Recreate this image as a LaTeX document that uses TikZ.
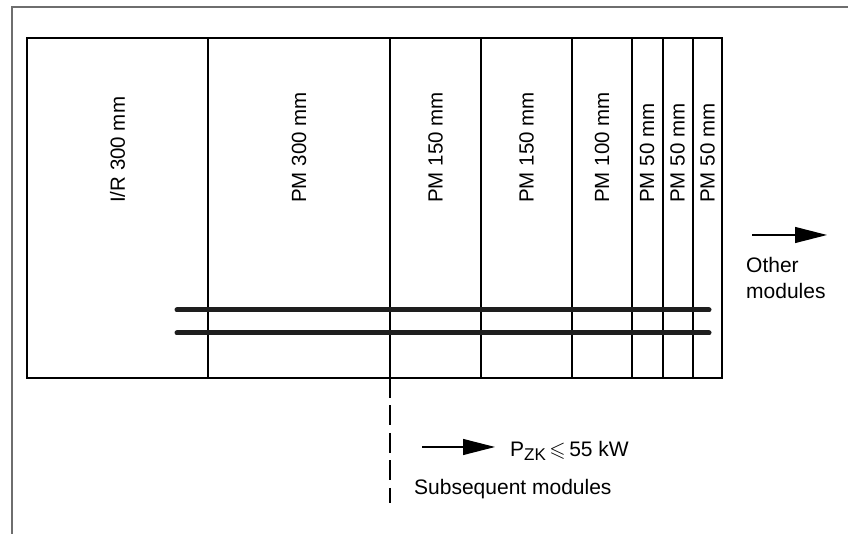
\documentclass[tikz,border=0pt]{standalone}
\usepackage{amssymb}
\usepackage{fontspec}
\setmainfont{Liberation Sans}
\usetikzlibrary{arrows.meta}
\definecolor{framegray}{HTML}{6E6E6E}
\definecolor{barblack}{HTML}{1E1E1E}
\tikzset{
  module/.style={draw=black, line width=1.1pt, anchor=north west, inner sep=0pt, outer sep=0pt, minimum height=340pt},
  modlabel/.style={rotate=90, anchor=west, inner sep=0pt, font=\fontsize{20.5}{24}\selectfont},
  bar/.style={line width=5pt, line cap=round, draw=barblack},
  flowarrow/.style={line width=1.1pt, -{Triangle[length=32pt,width=16pt]}},
  plain/.style={inner sep=0pt, font=\fontsize{21}{26}\selectfont}
}
\begin{document}
\begin{tikzpicture}[x=1pt,y=1pt]
\useasboundingbox (0,0) rectangle (848,534);
% outer frame
\draw[framegray, line width=1.6pt] (12,0) -- (12,527) -- (848,527);
% modules
\node[module, minimum width=181pt] (m1) at (27,496) {};
\node[module, minimum width=182pt] (m2) at (208,496) {};
\node[module, minimum width=91pt] (m3) at (390,496) {};
\node[module, minimum width=91pt] (m4) at (481,496) {};
\node[module, minimum width=60pt] (m5) at (572,496) {};
\node[module, minimum width=31pt] (m6) at (632,496) {};
\node[module, minimum width=30pt] (m7) at (663,496) {};
\node[module, minimum width=29pt] (m8) at (693,496) {};
% labels
\node[modlabel] (l1) at (117.5,331) {I/R 300 mm};
\node[modlabel] (l2) at (299,331) {PM 300 mm};
\node[modlabel] (l3) at (435.5,331) {PM 150 mm};
\node[modlabel] (l4) at (526.5,331) {PM 150 mm};
\node[modlabel] (l5) at (602,331) {PM 100 mm};
\node[modlabel] (l6) at (647,331) {PM 50 mm};
\node[modlabel] (l7) at (677.5,331) {PM 50 mm};
\node[modlabel] (l8) at (707.5,331) {PM 50 mm};
% bars
\coordinate (b1l) at (177,224);
\coordinate (b1r) at (709,224);
\coordinate (b2l) at (177,201);
\coordinate (b2r) at (709,201);
\draw[bar] (b1l) -- (b1r);
\draw[bar] (b2l) -- (b2r);
% dashed continuation
\coordinate (dend) at (390,31);
\draw[line width=1.2pt, dash pattern=on 20pt off 7.5pt] (m3.south west) -- (dend);
% other modules arrow
\coordinate (oa) at (752,299);
\coordinate (ob) at (827,299);
\draw[flowarrow] (oa) -- (ob);
\node[plain, anchor=base west] (t1) at (746,261) {Other};
\node[plain, anchor=base west] (t2) at (746,235) {modules};
% subsequent modules arrow
\coordinate (sa) at (422,87);
\coordinate (sb) at (495,87);
\draw[flowarrow] (sa) -- (sb);
\node[plain, anchor=base west] (pzk) at (510,77) {P\raisebox{-4pt}{\fontsize{17}{17}\selectfont ZK}\,$\leqslant$\,55 kW};
\node[plain, anchor=base west] (sub) at (414,39) {Subsequent modules};
\end{tikzpicture}
\end{document}
